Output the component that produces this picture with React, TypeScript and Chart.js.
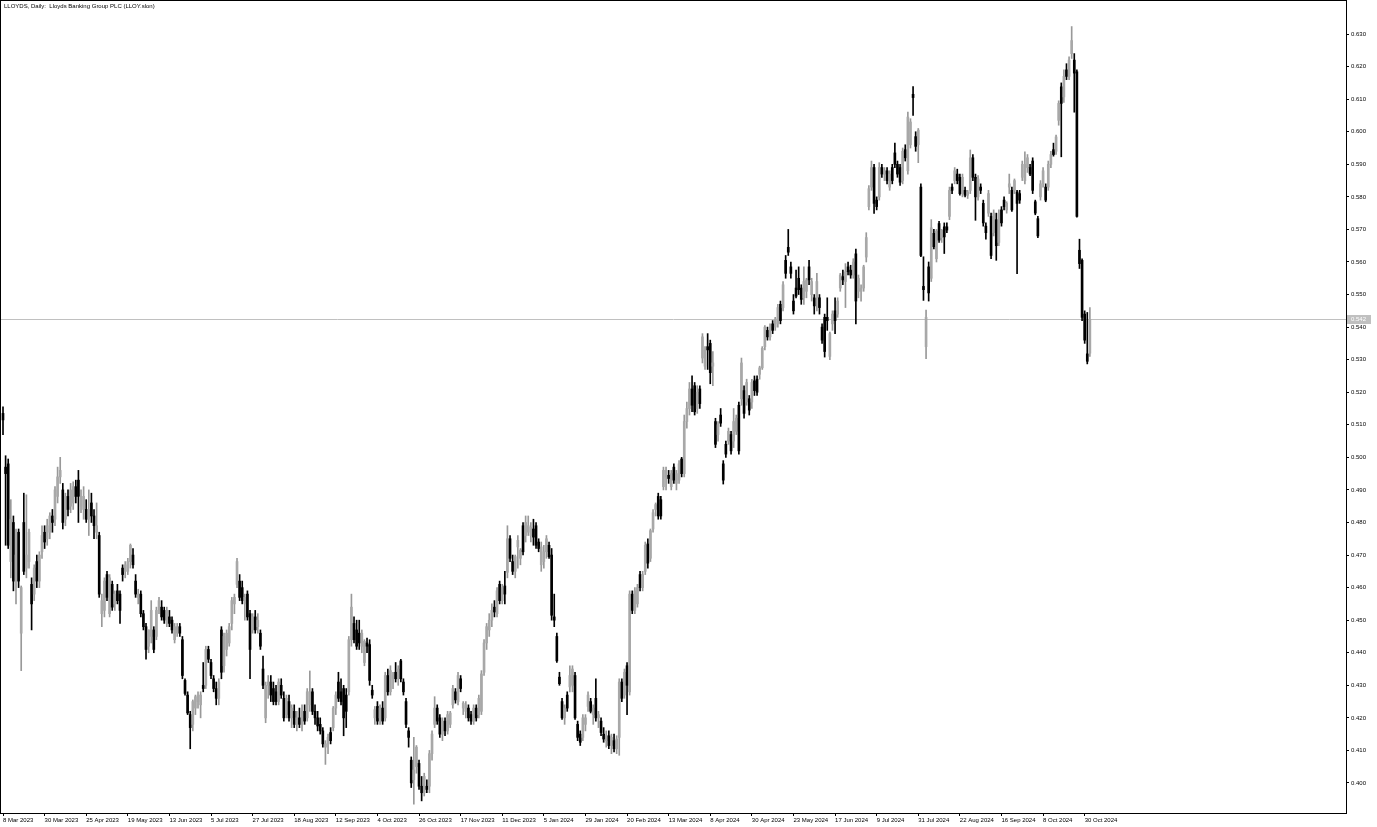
import React, { useEffect, useRef } from "react";
import { Chart, registerables } from "chart.js";

Chart.register(...registerables);

const chartTitle = "LLOYDS, Daily:  Lloyds Banking Group PLC (LLOY.slon)";

const xTickLabels = [
  "8 Mar 2023", "30 Mar 2023", "25 Apr 2023", "19 May 2023", "13 Jun 2023", "5 Jul 2023",
  "27 Jul 2023", "18 Aug 2023", "12 Sep 2023", "4 Oct 2023", "26 Oct 2023", "17 Nov 2023",
  "11 Dec 2023", "5 Jan 2024", "29 Jan 2024", "20 Feb 2024", "13 Mar 2024", "8 Apr 2024",
  "30 Apr 2024", "23 May 2024", "17 Jun 2024", "9 Jul 2024", "31 Jul 2024", "22 Aug 2024",
  "16 Sep 2024", "8 Oct 2024", "30 Oct 2024",
];
const barsPerTick = 16;
const yTickTop = 0.63;

// Daily OHLC in thousandths of GBP (513.5 = 0.5135)
const opens = [
  513.5,497,498,468,480,462,477,446,480,466,
  468,461,458,468,462,471,477,475,477,482,
  481,488,494,490,481,488,485,486,491,493,
  485,484,484,481,486,482,477,476,452,453,
  464,452,461,455,459,458,466,465,465,468,
  470,462,457,458,452,448,442,445,447,445,
  453,454,453,449,451,450,444,446,448,444,
  431.5,427,421,418,423,425,424,430,430,441,
  437,432,429,426,447,436,441,443,449,455,
  461,462,460,455,458,452,447,451,448,446,
  435,420,430,431,429,428,425,430,426,421,
  425,420,422,418,420,418,422,420,424,428,
  422,420,418,416,411,412,415.5,417,423,431,
  428,429,427,428,444,449,447,446,442,437,
  443,442.5,428.5,420,423.5,420,423,420,433,428,
  432,434,432,437.5,431,425,416,407,401,405,
  406,399,397,399,399,409,418,423,420,415,
  419,416,418,424,428,425,432,423,422,423,
  421,419,423,421,422,434,443,447,450,454,
  452,461,456,460.5,464.7,475,468,465,472.5,469,
  479,476,477,476,478,479,474,467,468,471,
  473,470,451,445,432.5,425,420,427,429.5,430,
  433,418,415,414,418,423.5,425,421,426,420,
  419,415,413,414.5,411.5,413,410.5,414,431,427,
  436,428,458,453,455,464,460,465,473.4,469,
  478,484,488,487,491,494,494.5,491,497,492,
  493,499.5,495,511,515,521,522,515,521,530.5,
  528,534,535,528,511,507,513,498,504,505,
  507,505,508,516,518,520.5,517,518,517,523.5,
  524,525.5,527.5,534,539,537,541,540,541,547,
  546,560.5,564.5,558.5,548,552,555,552,549,551,
  558.5,550,549,549,549,540,543,543,531,541,
  545,544,552,555.5,554,558.5,557.5,556,562.5,551,
  551,552,561.5,577,583,589,579,580,589,587,
  588,583,589,593.5,590,589,585,594.5,588,596,
  611.5,598.5,596,583,552.5,534,558.5,555,568.8,561,
  571.8,567.5,570.8,570.8,574,583,585,587,586,581,
  582,580.5,582,592,586,580,583,578,571,575,
  574,569,573,566,576,579,576,583,582,582,
  581.5,581,586,585,589,589,591,578.5,573.3,580,
  584,583,583,590,594.5,594,603.5,613.8,610.7,619,
  617,624,622,618.4,563.6,560.5,544,531.8,532,
];
const highs = [
  515.5,500.5,499.5,487,482,478,478,460.5,489,488.5,
  478,463,467,470,471,479,479,481,483,484,
  491,497,500,492,489,490,492,492.5,493,496,
  490,491,487,490,489,484,486,477,458,463,
  465,464,462,459,461,459,467,468,469,473.4,
  472,464,459.5,459,453,449,447,456,448,454,
  457,456,454,454,453,451,449,449,449,445,
  432,428,422,425.5,427,428,428,437,442,442,
  438,433,431,432,448,446,447,449,457,458,
  469,464,462,458,459,453,452,453,452,447,
  439,431,433,433,431,430,432,432,428,427,
  427,424,424,422,423,424,424,429,434.4,429,
  424,422,420,417,413,415,417,423.5,428,434,
  432,430,429,445,458,451,450,450,447,444,
  444.5,444,430,423.5,425,424,425,434,435,436,
  434,437,436,438,432,426,417,408,414,411.5,
  407,402,403,401,410,416,426.5,424,421,420,
  420,422,422,430,429,434,433,425,425,424,
  422,424,424,427,434.5,444,449,452,455,456,
  460,462,461,465,479,476,470,470,476,472,
  480,482,482,480,481,480,475,474,473,476,
  474,472,458,446,434,426,424,428,436,436,
  434,419,416,421,421,428,426,424,432,422,
  420,417,416,416,415,415,414.5,432,432,435,
  437,459,459,460,461,465,465,474,475,478,
  484,486,489,488,497,497,496,496,498,496,
  499,500,513,517,523,525,523,522,522,538,
  534,538,536,532.5,512,511,515,499,505,509,
  508,515,513,517,530.5,522,524,519,524,525,
  525,528,534,540.5,540,541,542,543,547,548,
  554,562,570,560,550,557.5,558.5,553,558.5,555,
  560.5,555,550,556.5,550,541,544,549,538.5,545,
  549,549,556.5,557.5,559.5,560,559,561,564,556,
  553,559,569,583.5,591,590,580,590.5,590,589,
  589,588,590,596.5,591,590,595,596,606,604,
  613.9,600,601,584,561.6,545.2,560,573,570,570,
  572.5,570,572,572,583,584,589,588.5,587,587,
  583,582,594.4,593,587,586.5,584,579,572,582,
  575,576,575,576,577,580,578.5,587,583,585.5,
  582,582,591,593.8,593,590,592,579,574,585,
  589,584,591,594,596.5,599,609.5,615,619,620.9,
  623,632.3,624,619,567,561,545,544.5,546,
];
const lows = [
  507,473,472,463,459,455,460,434.5,464,463,
  466,447,456,460,460,469,472,473,475,477,
  479,486,492,478,479,482,483,484,486,480,
  483,481,480,476,480,475,475,457,448,451,
  456,451,453,453,455,449,462,463,464,466,
  466,457,455,451,447,438,440,443,440,444,
  452,450,449,448,448,446,443,445,445,432,
  427,421,410.5,416,421,423,420,428,429,437,
  432,428,424,424,432,434,439,442,447,452,
  460,456,455,450,450,432,446,446,446,441,
  429,418.5,426,425,424,424,424,426,419,420,
  419,417,417,416,417,416,418,419,422,421,
  418,416,415,411,405.7,409,412,416,421,425,
  424,414.5,417,427,442,443,441,441,440,436,
  440,430,426,418,418,418,418,419,427,427,
  429,431,430,431,427,417,411,398.6,393.5,403,
  398,394.5,396,397,397,407,417,418,414,413,
  414.5,415,417,423,424.5,424,428,421,420,419,
  418,418,419,420,421,433,441,445,448,451,
  451,455,455,455,463,468,464,463,466,467,
  470,474,476,474,473,472,471,465,466,469,
  469,450,448,437,430,419.5,418,422,428,428,
  419.5,413,411.5,413,416,422,421.5,418,419,417,
  414.5,412.5,411,410.5,409,409.5,409,408.5,425,426,
  421,427,452,452,454,459,459,464,466,468,
  477,482,481,481,490,490,492,490,492,490,
  492,494,494,509,513,514,513,513.5,515,529,
  527,527,522.6,522,503,505,509.5,491.8,500,504,
  501,503,507,501,516,512,516,513,515,519,
  519,524,527,533,536,536,538,539,540,541,
  545,555,562,555,544,549,550,547,547,549,
  553,548,544,545,544,535,530.8,539,530,539,
  538,543,551,553,546,556,555,555,541,549,
  548,551,560,576,582,574.9,576,579,586,585,
  584,582,584,589,586,583.5,584,591,587,595,
  605,594,590.5,561.6,548.2,530.3,548,554,564,560,
  566,566,562.6,569,573,581,584,584,580.5,580,
  580,579.5,581,585,572.8,579,581,571,567,574,
  561,568,560.5,565,571,576,575,581,575.5,581,
  556.4,578,585,584,587.5,586.5,581,574.5,567.5,579,
  583,578.5,582,589,592.5,593,602,592.3,609,616,
  616,622.5,606,573.8,558,542,535,528.7,531,
];
const closes = [
  511.5,495,473,481,462,470,462,460,465,470,
  477,455,466,462,470,476,474,479,482,480,
  490,494,496,480,488,484,490,491,488,488,
  488,488,481,484,482,479,479,458,456,462,
  457,463,454,458,456,453,464,467,468,473,
  467,458,458,452,448,441,447,453,441,453,
  456,451,450,453,449,447,448,448,446,433,
  427.5,421.5,417,425,426.5,427,427,429,441,438,
  433,429,426,431,434,445,446,448,456,457,
  468,457,456,457,451,441,451,447,450,442,
  430,430,431,427,425,425,431,427,420,426,
  420,423,418,420,418,422,419,428,428,422,
  420,417.5,416,412,412,414,413,423,427,426,
  425,420,422,444,454,444,442,443,446,443.5,
  442,431.5,427,422.5,419,423,419,433,428,434.5,
  433,432,435,432,428,418,414,400,404,411,
  399,397,402,398,409,415,423,419,415,419,
  416,421,421.5,429,425.5,433,429,424.5,424,420,
  419,423,420,426,433.5,443,448,450,453,452.5,
  459,456,460,458,475,469,465,469.5,474.5,471.5,
  471,480,479,478.5,475.5,473,472,472.5,471,475,
  469.5,451.5,450,437.5,430.5,420,423,423,433,435,
  420,414,412.5,420,420,427,422,423,420,421,
  415.5,413.5,414.5,411.5,414,410.5,413.5,431,426,434,
  430,458,453,459,460,460,464,473,467.5,477.5,
  483,485.5,482,482,496,496,493.5,495,493,495,
  498,495,511,515,521,516,514,520,516.5,537,
  533,533,526,529,504,510,510.5,493,501,508,
  502,511,512,502,529,513.5,523,514.5,523,520.5,
  520,527.5,533.5,540,537,540,539,542.5,546,542,
  553,556.5,563,556.5,545,549.5,551.5,548.5,554,554.5,
  554.5,554,546.5,554,546,536,532.5,542,538,544,
  542,548,556,554.5,557,557,556,560,548,555,
  552,558.5,567.5,582.5,589,578,577,589,587,588,
  585,587,585,590,587,584.5,594,592,604.5,603,
  610.5,595.5,600.5,562,551.5,543,550.5,570.5,564.7,569.5,
  566.7,569.7,567.7,569.8,582,582,588,585,581,586,
  580.5,581.5,592,586,580,585.5,582,572,569,581,
  562,575,565,575,572,577,578,584,576,585,
  578,579,590,590,592,587,582,575,568,584,
  588,579,590,593,593,598.4,608.7,608.7,617,617,
  622,628,618,574,559.5,543,536,529.5,542.4,
];

const FONT = "'Liberation Sans', Arial, sans-serif";
const BULL = "#a8a8a8";
const BEAR = "#000000";
const PRICE_LINE = "#c0c0c0";

export default function App() {
  const ref = useRef<HTMLCanvasElement>(null);

  useEffect(() => {
    const canvas = ref.current;
    if (!canvas) return;
    const n = closes.length;
    const isBull = (i: number) => closes[i] >= opens[i];
    const bodies = closes.map((c, i) => ({ x: i, y: [opens[i] / 1000, c / 1000] }));
    const wicks = highs.map((h, i) => ({ x: i, y: [lows[i] / 1000, h / 1000] }));
    const lastPrice = closes[n - 1] / 1000;

    const overlay = {
      id: "mtOverlay",
      beforeDatasetsDraw(chart: any) {
        const { ctx, chartArea: a, scales } = chart;
        const y = Math.round(scales.y.getPixelForValue(lastPrice)) + 0.5;
        ctx.save();
        ctx.strokeStyle = PRICE_LINE;
        ctx.lineWidth = 1;
        ctx.beginPath();
        ctx.moveTo(a.left, y);
        ctx.lineTo(a.right, y);
        ctx.stroke();
        ctx.restore();
      },
      afterDraw(chart: any) {
        const { ctx, chartArea: a, scales } = chart;
        ctx.save();
        ctx.strokeStyle = "#000";
        ctx.lineWidth = 1;
        ctx.strokeRect(a.left - 0.5, a.top - 0.5, a.right - a.left + 1, a.bottom - a.top + 1);
        const y = Math.round(scales.y.getPixelForValue(lastPrice));
        ctx.fillStyle = PRICE_LINE;
        ctx.fillRect(a.right + 1, y - 4, 24, 9);
        ctx.fillStyle = "#ffffff";
        ctx.font = `6px ${FONT}`;
        ctx.textBaseline = "middle";
        ctx.textAlign = "left";
        ctx.fillText(lastPrice.toFixed(3), a.right + 5, y + 0.5);
        ctx.restore();
      },
    };

    const chart = new Chart(canvas, {
      type: "bar",
      data: {
        datasets: [
          {
            data: bodies as any,
            grouped: false,
            barThickness: 2,
            minBarLength: 1,
            borderWidth: 0,
            backgroundColor: (c: any) => (isBull(c.dataIndex) ? BULL : BEAR),
          },
          {
            data: wicks as any,
            grouped: false,
            barThickness: 1,
            borderWidth: 0,
            backgroundColor: (c: any) => (isBull(c.dataIndex) ? "#999999" : BEAR),
          },
        ],
      },
      options: {
        animation: false,
        responsive: false,
        devicePixelRatio: 1,
        events: [],
        layout: { padding: { left: 1, top: 1, right: 0, bottom: 0 } },
        plugins: {
          legend: { display: false },
          tooltip: { enabled: false },
          title: { display: false },
        },
        scales: {
          x: {
            type: "linear",
            min: -0.77,
            max: 516.5,
            offset: false,
            afterFit: (s: any) => {
              s.height = 14;
              s.paddingLeft = 0;
              s.paddingRight = 0;
            },
            border: { display: false },
            grid: {
              offset: false,
              drawOnChartArea: false,
              drawTicks: true,
              tickLength: 3,
              tickColor: (c: any) =>
                c.tick && Math.round(c.tick.value / barsPerTick) < xTickLabels.length ? "#000" : "rgba(0,0,0,0)",
            },
            ticks: {
              stepSize: barsPerTick,
              includeBounds: false,
              autoSkip: false,
              maxRotation: 0,
              minRotation: 0,
              align: "start",
              padding: 1,
              color: "#000",
              font: { family: FONT, size: 6 },
              callback: (v: any) => xTickLabels[Math.round(Number(v) / barsPerTick)] ?? "",
            },
          },
          y: {
            type: "linear",
            position: "right",
            min: 0.39078,
            max: 0.64015,
            beginAtZero: false,
            afterFit: (s: any) => {
              s.width = 31;
              s.paddingTop = 0;
              s.paddingBottom = 0;
            },
            afterBuildTicks: (s: any) => {
              s.ticks = s.ticks.filter((t: any) => t.value <= yTickTop + 0.0005);
            },
            border: { display: false },
            grid: { drawOnChartArea: false, drawTicks: true, tickLength: 3, tickColor: "#000" },
            ticks: {
              stepSize: 0.01,
              includeBounds: false,
              padding: 2,
              color: "#000",
              font: { family: FONT, size: 6 },
              callback: (v: any) => Number(v).toFixed(3),
            },
          },
        },
      } as any,
      plugins: [overlay],
    });
    return () => chart.destroy();
  }, []);

  return (
    <div style={{ position: "absolute", left: 0, top: 0, width: 1377, height: 827, background: "#fff" }}>
      <canvas ref={ref} width={1377} height={827} style={{ display: "block", width: 1377, height: 827 }} />
      <div
        style={{
          position: "absolute",
          left: 4,
          top: 2,
          font: `6px ${FONT}`,
          lineHeight: "8px",
          color: "#000",
          whiteSpace: "pre",
          pointerEvents: "none",
        }}
      >
        {chartTitle}
      </div>
    </div>
  );
}
